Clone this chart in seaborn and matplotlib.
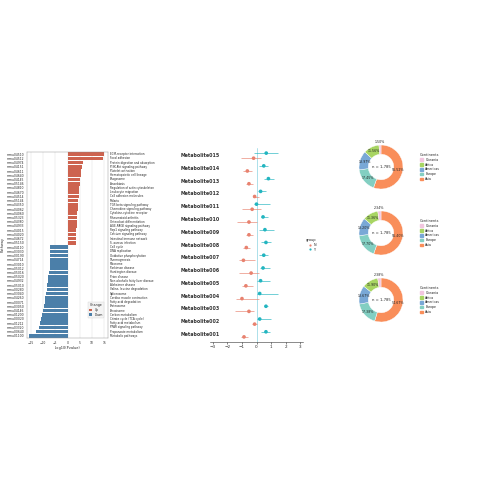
import numpy as np
import pandas as pd
import matplotlib
matplotlib.use("Agg")
import matplotlib.pyplot as plt
import matplotlib.transforms as mtransforms
import seaborn as sns

# --- dati: barre KEGG ---
path_ids = ["mmu04510", "mmu04512", "mmu04974", "mmu04151", "mmu04611", "mmu04640",
            "mmu04145", "mmu05146", "mmu04810", "mmu04670", "mmu04514", "mmu05144",
            "mmu04350", "mmu04062", "mmu04060", "mmu05323", "mmu04380", "mmu04933",
            "mmu04015", "mmu04020", "mmu04672", "mmu05150",
            "mmu04110", "mmu03030", "mmu00190", "mmu04714", "mmu03010", "mmu05012",
            "mmu05016", "mmu05020", "mmu04932", "mmu05010", "mmu00280", "mmu03040",
            "mmu04260", "mmu00071", "mmu03050", "mmu04146", "mmu01200", "mmu00020",
            "mmu01212", "mmu03320", "mmu00640", "mmu01100"]
path_names = ["ECM-receptor interaction", "Focal adhesion", "Protein digestion and absorption",
              "PI3K-Akt signaling pathway", "Platelet activation", "Hematopoietic cell lineage",
              "Phagosome", "Amoebiasis", "Regulation of actin cytoskeleton", "Leukocyte migration",
              "Cell adhesion molecules", "Malaria", "TGF-beta signaling pathway",
              "Chemokine signaling pathway", "Cytokine-cytokine receptor", "Rheumatoid arthritis",
              "Osteoclast differentiation", "AGE-RAGE signaling pathway", "Rap1 signaling pathway",
              "Calcium signaling pathway", "Intestinal immune network", "S. aureus infection",
              "Cell cycle", "DNA replication", "Oxidative phosphorylation", "Thermogenesis",
              "Ribosome", "Parkinson disease", "Huntington disease", "Prion disease",
              "Non-alcoholic fatty liver disease", "Alzheimer disease", "Valine, leucine degradation",
              "Spliceosome", "Cardiac muscle contraction", "Fatty acid degradation", "Proteasome",
              "Peroxisome", "Carbon metabolism", "Citrate cycle (TCA cycle)",
              "Fatty acid metabolism", "PPAR signaling pathway", "Propanoate metabolism",
              "Metabolic pathways"]
up_vals = [15.0, 14.4, 6.3, 5.8, 5.6, 5.3, 5.1, 4.9, 4.7, 4.6, 4.5, 4.3, 4.2,
           4.1, 4.0, 3.9, 3.8, 3.7, 3.6, 3.5, 3.4, 3.3]
down_vals = [-7.0, -7.0, -7.1, -7.2, -7.2, -7.3, -7.5, -7.8, -8.0, -8.2, -8.4,
             -8.6, -9.0, -9.3, -9.6, -10.0, -10.4, -10.8, -11.2, -11.8, -12.8, -15.5]

# --- dati: forest plot ---
metab = ["Metabolite015", "Metabolite014", "Metabolite013", "Metabolite012", "Metabolite011",
         "Metabolite010", "Metabolite009", "Metabolite008", "Metabolite007", "Metabolite006",
         "Metabolite005", "Metabolite004", "Metabolite003", "Metabolite002", "Metabolite001"]
y_est = [0.67, 0.50, 0.82, 0.28, 0.00, 0.45, 0.58, 0.65, 0.50, 0.45, 0.28, 0.22, 0.65, 0.22, 0.65]
y_lo = [-0.15, 0.20, 0.50, 0.13, -0.15, 0.28, 0.17, 0.28, 0.20, 0.22, 0.00, 0.00, 0.50, 0.00, 0.28]
y_hi = [1.47, 0.80, 1.20, 0.65, 0.93, 0.78, 1.20, 1.00, 0.78, 0.93, 0.93, 1.47, 0.82, 1.00, 0.93]
n_est = [-0.20, -0.63, -0.52, -0.13, -0.30, -0.52, -0.52, -0.70, -0.90, -0.37, -0.73, -1.00, -0.52, -0.13, -0.86]
n_lo = [-1.10, -0.90, -0.75, -0.25, -1.00, -1.34, -0.73, -0.90, -1.23, -1.23, -1.00, -1.38, -1.45, -0.30, -1.08]
n_hi = [0.30, -0.30, -0.25, 0.17, 0.28, 0.06, -0.26, -0.43, -0.09, 0.17, -0.26, 0.17, -0.15, 0.06, -0.58]

# --- dati: ciambelle ---
continents = ["Asia", "Europe", "Americas", "Africa", "Oceania"]
donut1 = [55.52, 17.45, 13.97, 11.56, 1.50]
donut2 = [55.40, 17.70, 13.20, 11.36, 2.34]
donut3 = [54.67, 17.38, 13.67, 11.90, 2.38]
n_label = "n = 1,785"

sns.set_theme(style="white")
plt.rcParams['font.family'] = ['DejaVu Sans']

fig = plt.figure(figsize=(5, 5), dpi=100)

RED = "#E2543A"
BLUE = "#3C80B8"

# Grafico 1: barre up/down
ax1 = fig.add_axes([0.054, 0.324, 0.162, 0.372])
df_bar = pd.DataFrame({
    "id": path_ids,
    "val": up_vals + down_vals,
    "Change": ["Up"] * len(up_vals) + ["Down"] * len(down_vals),
})
sns.barplot(data=df_bar, x="val", y="id", hue="Change", palette={"Up": RED, "Down": BLUE},
            dodge=False, orient="h", ax=ax1, width=0.85, edgecolor="none")
ax1.set_xlim(-16.5, 16.5)
ax1.set_xticks([-15, -10, -5, 0, 5, 10, 15])
ax1.tick_params(axis="both", labelsize=2.2, length=1, width=0.3, pad=1)
ax1.xaxis.grid(True, color="#dddddd", linewidth=0.3)
ax1.set_axisbelow(True)
for s in ax1.spines.values():
    s.set_linewidth(0.3)
    s.set_color("#888888")
ax1.set_xlabel("-log10(Pvalue)", fontsize=2.5, labelpad=1)
ax1.set_ylabel("Pathway", fontsize=2.5, labelpad=1)
trans = mtransforms.blended_transform_factory(ax1.transAxes, ax1.transData)
for i, nm in enumerate(path_names):
    ax1.text(1.02, i, nm, transform=trans, fontsize=2.0, va="center", ha="left")
leg = ax1.legend(title="Change", fontsize=2.2, title_fontsize=2.4, loc="lower right",
                 bbox_to_anchor=(0.97, 0.1), frameon=True, handlelength=1, handleheight=0.8,
                 borderpad=0.4, labelspacing=0.3)
leg.get_frame().set_linewidth(0.3)
leg.get_frame().set_facecolor("#f2f2f2")

# Grafico 2: forest plot
ax2 = fig.add_axes([0.42, 0.316, 0.186, 0.388])
ypos = np.arange(len(metab))
TEAL = "#22B5C0"
PINK = "#E8826F"
ax2.axvline(0, color="#9fdbe6", linewidth=0.6, zorder=0)
ax2.hlines(ypos - 0.2, y_lo, y_hi, color=TEAL, linewidth=0.6, alpha=0.75)
ax2.hlines(ypos + 0.2, n_lo, n_hi, color=PINK, linewidth=0.6, alpha=0.75)
df_f = pd.DataFrame({
    "est": y_est + n_est,
    "pos": list(ypos - 0.2) + list(ypos + 0.2),
    "group": ["Y"] * len(metab) + ["N"] * len(metab),
})
sns.scatterplot(data=df_f, x="est", y="pos", hue="group", palette={"N": PINK, "Y": TEAL},
                hue_order=["N", "Y"], s=7, linewidth=0, ax=ax2)
ax2.set_ylim(len(metab) - 0.4, -0.6)
ax2.set_xlim(-3.2, 3.2)
ax2.set_xticks([-3, -2, -1, 0, 1, 2, 3])
ax2.set_yticks([])
ax2.set_xlabel("")
ax2.set_ylabel("")
for side in ["left", "top", "right"]:
    ax2.spines[side].set_visible(False)
ax2.spines["bottom"].set_linewidth(0.4)
ax2.spines["bottom"].set_color("#333333")
ax2.tick_params(axis="x", labelsize=3, length=1.5, width=0.4, pad=1, bottom=True)
trans2 = mtransforms.blended_transform_factory(fig.transFigure, ax2.transData)
for i, nm in enumerate(metab):
    ax2.text(0.362, i, nm, transform=trans2, fontsize=3.4, fontweight="bold",
             va="center", ha="left", color="#333333")
leg2 = ax2.legend(title="group", fontsize=2.4, title_fontsize=2.6, loc="center left",
                  bbox_to_anchor=(1.0, 0.5), frameon=False, markerscale=0.6,
                  handletextpad=0.2, labelspacing=0.2)

# Grafico 3: ciambelle
pal = {"Oceania": "#F2C6DF", "Africa": "#A8D563", "Americas": "#79A8D6",
       "Europe": "#83CFC2", "Asia": "#F98E5A"}
centers_y = [167, 233, 300]
for vals, cy in zip([donut1, donut2, donut3], centers_y):
    size = 0.11
    ax = fig.add_axes([381 / 500 - size / 2, 1 - cy / 500 - size / 2, size, size])
    wedges, texts = ax.pie(vals, colors=[pal[c] for c in continents], startangle=90,
                           counterclock=False, radius=1.0,
                           wedgeprops=dict(width=0.42, edgecolor="white", linewidth=0.3))
    for w, v in zip(wedges, vals):
        ang = np.deg2rad((w.theta1 + w.theta2) / 2)
        r = 0.79 if v > 5 else 1.12
        ax.text(r * np.cos(ang), r * np.sin(ang), f"{v:.2f}%", fontsize=2.3,
                ha="center", va="center", color="#222222")
    ax.text(0, 0, n_label, fontsize=2.7, ha="center", va="center")
    ax.set_aspect("equal")
    handles = [plt.Rectangle((0, 0), 1, 1, color=pal[c]) for c in continents[::-1]]
    lg = ax.legend(handles, continents[::-1], title="Continents", fontsize=2.3,
                   title_fontsize=2.5, loc="center left", bbox_to_anchor=(1.15, 0.5),
                   frameon=False, handlelength=1, handleheight=0.9, labelspacing=0.25)

fig.savefig("out.png", dpi=100, facecolor="white")
